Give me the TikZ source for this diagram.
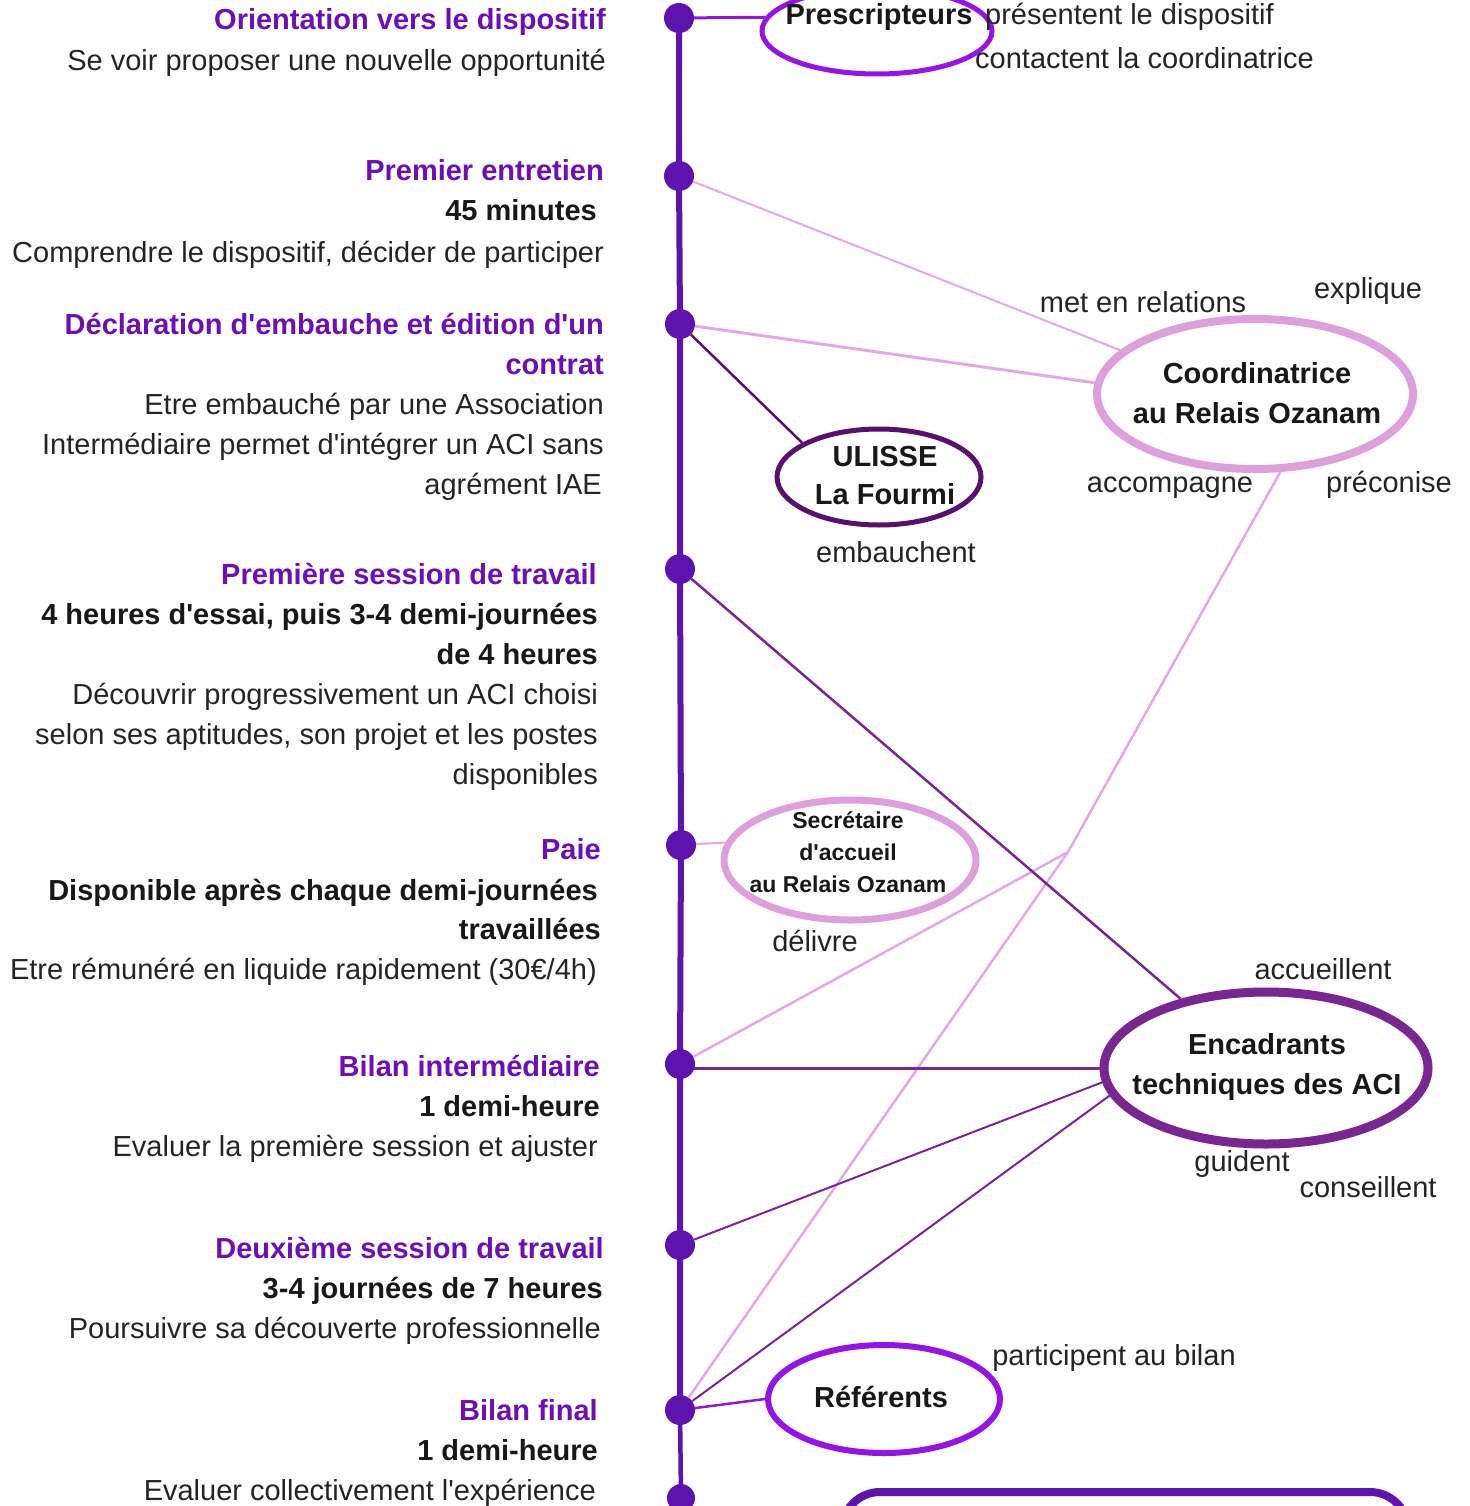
\documentclass[tikz,border=0pt]{standalone}
\usepackage{fontspec}
\newfontfamily\lib{Liberation Sans}
\usetikzlibrary{shapes.geometric}
\definecolor{titleviolet}{RGB}{106,16,181}
\definecolor{tlviolet}{RGB}{94,19,175}
\definecolor{brightviolet}{RGB}{148,20,232}
\definecolor{plumc}{RGB}{221,160,221}
\definecolor{plumline}{RGB}{226,170,226}
\definecolor{darkpurple}{RGB}{88,16,108}
\definecolor{encpurple}{RGB}{119,39,143}
\definecolor{txtgray}{RGB}{36,36,36}
\definecolor{txtdark}{RGB}{24,24,24}
\begin{document}
\begin{tikzpicture}[x=1pt,y=-1pt,
  lt/.style={font=\lib\fontsize{29}{40}\selectfont, text=txtgray, inner sep=0pt, anchor=base east},
  ltb/.style={font=\lib\bfseries\fontsize{29}{40}\selectfont, text=txtdark, inner sep=0pt, anchor=base east},
  ltt/.style={font=\lib\bfseries\fontsize{29}{40}\selectfont, text=titleviolet, inner sep=0pt, anchor=base east},
  lbl/.style={font=\lib\fontsize{29}{40}\selectfont, text=txtgray, inner sep=0pt, anchor=base},
  elt/.style={font=\lib\bfseries\fontsize{29}{40}\selectfont, text=txtdark, inner sep=0pt, anchor=base},
  elts/.style={font=\lib\bfseries\fontsize{23}{32}\selectfont, text=txtdark, inner sep=0pt, anchor=base},
  tdot/.style={circle, fill=tlviolet, minimum size=30pt, inner sep=0pt},
  oval/.style={ellipse, inner sep=0pt},
  conn/.style={line width=2.5pt}
]
\useasboundingbox (0,0) rectangle (1469,1506);
\clip (0,0) rectangle (1469,1506);

% timeline dots
\node[tdot] (d1) at (679,18) {};
\node[tdot] (d2) at (679,176) {};
\node[tdot] (d3) at (680,324) {};
\node[tdot] (d4) at (680,569) {};
\node[tdot] (d5) at (681,845) {};
\node[tdot] (d6) at (680,1064) {};
\node[tdot] (d7) at (680,1245) {};
\node[tdot] (d8) at (680,1410) {};
\node[tdot, minimum size=28pt] (d9) at (681,1498) {};

% timeline
\draw[tlviolet, line width=6pt] (d1.center) -- (d2.center) -- (d3.center) -- (d4.center) -- (d5.center) -- (d6.center) -- (d7.center) -- (d8.center);
\draw[tlviolet, line width=4.5pt] (d8.center) -- (d9.center);

% actor ellipses
\node[oval, draw=brightviolet, line width=5pt, minimum width=230pt, minimum height=86pt] (presc) at (877,31) {};
\node[oval, draw=plumc, line width=8pt, minimum width=316pt, minimum height=150pt] (coord) at (1255,394) {};
\node[oval, draw=darkpurple, line width=5pt, minimum width=204pt, minimum height=96pt] (ulisse) at (879,477) {};
\node[oval, draw=plumc, line width=7pt, minimum width=252pt, minimum height=120pt] (secr) at (850,860) {};
\node[oval, draw=encpurple, line width=9pt, minimum width=324pt, minimum height=152pt] (enc) at (1266,1068) {};
\node[oval, draw=brightviolet, line width=6pt, minimum width=232pt, minimum height=108pt] (ref) at (884,1399) {};

% bottom box
\node[draw=tlviolet, line width=8pt, rounded corners=38pt, minimum width=566pt, minimum height=200pt, inner sep=0pt] (box) at (1125,1592) {};

% connectors
\coordinate (br) at (1068,852);
\draw[brightviolet, line width=3pt] (d1) -- (presc.173);
\draw[plumline, line width=2pt] (d2) -- (coord.162);
\draw[plumline, line width=3pt] (d3) -- (coord.176);
\draw[darkpurple, conn] (d3) -- (ulisse.156);
\draw[plumline, conn] (coord.288) -- (br) -- (d6);
\draw[plumline, conn] (br) -- (d8);
\draw[encpurple, conn] (d4) -- (enc.141);
\draw[plumline, line width=2pt] (d5) -- (secr.172);
\draw[encpurple, conn] (d6.-18) -- (enc.west |- d6.-18);
\draw[encpurple, line width=2pt] (d7) -- (enc.185);
\draw[encpurple, line width=2pt] (d8) -- (enc.190.5);
\draw[brightviolet, conn] (d8) -- (ref.180);

% ellipse texts
\node[elt] (prescT) at (879,25) {Prescripteurs};
\node[lt, anchor=base west] (prescA) at (985,25) {présentent le dispositif};
\node[lt, anchor=base west] (prescB) at (975,69) {contactent la coordinatrice};
\node[elt] (coordT1) at (1257,383) {Coordinatrice};
\node[elt] (coordT2) at (1257,423) {au Relais Ozanam};
\node[elt] (ulisseT1) at (885,466) {ULISSE};
\node[elt] (ulisseT2) at (885,504) {La Fourmi};
\node[elts] (secrT1) at (848,828) {Secrétaire};
\node[elts] (secrT2) at (848,860) {d'accueil};
\node[elts] (secrT3) at (848,892) {au Relais Ozanam};
\node[elt] (encT1) at (1267,1054) {Encadrants};
\node[elt] (encT2) at (1267,1094) {techniques des ACI};
\node[elt] (refT) at (881,1407) {Référents};

% relation labels
\node[lbl] (l1) at (1143,312) {met en relations};
\node[lbl] (l2) at (1368,298) {explique};
\node[lbl] (l3) at (1170,492) {accompagne};
\node[lbl] (l4) at (1389,492) {préconise};
\node[lbl] (l5) at (896,562) {embauchent};
\node[lbl] (l6) at (815,951) {délivre};
\node[lbl] (l7) at (1323,979) {accueillent};
\node[lbl] (l8) at (1242,1171) {guident};
\node[lbl] (l9) at (1368,1197) {conseillent};
\node[lbl] (l10) at (1114,1365) {participent au bilan};

% left column
\node[ltt] (t1a) at (606,30) {Orientation vers le dispositif};
\node[lt] (t1b) at (606,71) {Se voir proposer une nouvelle opportunité};
\node[ltt] (t2a) at (604,181) {Premier entretien};
\node[ltb] (t2b) at (597,221) {45 minutes};
\node[lt] (t2c) at (604,262) {Comprendre le dispositif, décider de participer};
\node[ltt] (t3a) at (604,334) {Déclaration d'embauche et édition d'un};
\node[ltt] (t3b) at (604,374) {contrat};
\node[lt] (t3c) at (604,414) {Etre embauché par une Association};
\node[lt] (t3d) at (604,454) {Intermédiaire permet d'intégrer un ACI sans};
\node[lt] (t3e) at (602,494) {agrément IAE};
\node[ltt] (t4a) at (597,584) {Première session de travail};
\node[ltb] (t4b) at (598,624) {4 heures d'essai, puis 3-4 demi-journées};
\node[ltb] (t4c) at (598,664) {de 4 heures};
\node[lt] (t4d) at (598,704) {Découvrir progressivement un ACI choisi};
\node[lt] (t4e) at (598,744) {selon ses aptitudes, son projet et les postes};
\node[lt] (t4f) at (598,784) {disponibles};
\node[ltt] (t5a) at (601,859) {Paie};
\node[ltb] (t5b) at (598,900) {Disponible après chaque demi-journées};
\node[ltb] (t5c) at (601,939) {travaillées};
\node[lt] (t5d) at (597,979) {Etre rémunéré en liquide rapidement (30€/4h)};
\node[ltt] (t6a) at (600,1076) {Bilan intermédiaire};
\node[ltb] (t6b) at (600,1116) {1 demi-heure};
\node[lt] (t6c) at (598,1156) {Evaluer la première session et ajuster};
\node[ltt] (t7a) at (604,1258) {Deuxième session de travail};
\node[ltb] (t7b) at (603,1298) {3-4 journées de 7 heures};
\node[lt] (t7c) at (601,1338) {Poursuivre sa découverte professionnelle};
\node[ltt] (t8a) at (598,1420) {Bilan final};
\node[ltb] (t8b) at (598,1460) {1 demi-heure};
\node[lt] (t8c) at (596,1500) {Evaluer collectivement l'expérience};
\end{tikzpicture}
\end{document}
